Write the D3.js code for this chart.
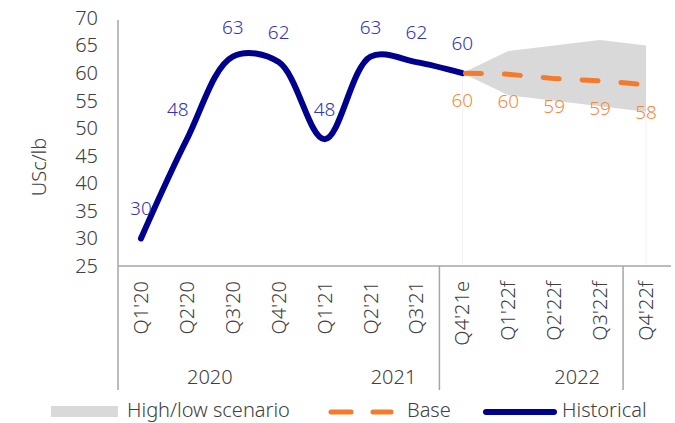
<!DOCTYPE html>
<html>
<head>
<meta charset="utf-8">
<script src="https://cdn.jsdelivr.net/npm/d3@7"></script>
<style>
  body { margin: 0; background: #fff; }
  text { font-family: "Noto Sans", "Open Sans", sans-serif; font-weight: 300; }
</style>
</head>
<body>
<div class="chart"></div>
<script>
// chart data
var quarters = ["Q1'20", "Q2'20", "Q3'20", "Q4'20", "Q1'21", "Q2'21", "Q3'21",
  "Q4'21e", "Q1'22f", "Q2'22f", "Q3'22f", "Q4'22f"];
var years = ["2020", "2021", "2022"];
var yearSpans = [["Q1'20", "Q4'20"], ["Q1'21", "Q4'21e"], ["Q1'22f", "Q4'22f"]];
var separators = ["Q4'21e", "Q4'22f"]; // year separators drawn left of these

var histQuarters = ["Q1'20", "Q2'20", "Q3'20", "Q4'20", "Q1'21", "Q2'21", "Q3'21", "Q4'21e"];
var histValues = [30, 48, 63, 62, 48, 63, 62, 60];

var baseQuarters = ["Q4'21e", "Q1'22f", "Q2'22f", "Q3'22f", "Q4'22f"];
var baseValues = [60, 59.8, 59.0, 58.6, 57.9];
var baseLabels = [60, 60, 59, 59, 58];
var highValues = [60, 64, 65, 66, 65];
var lowValues = [60, 56, 55, 54, 53];

var yTicks = [25, 30, 35, 40, 45, 50, 55, 60, 65, 70];

var svgWidth = 675;
var svgHeight = 423;

var margin = { top: 18, right: 5, bottom: 157, left: 118 };
var width = 669 - margin.left;
var height = 266 - margin.top;

var svg = d3.select(".chart")
  .append("svg")
  .attr("width", svgWidth)
  .attr("height", svgHeight);

var chartGroup = svg.append("g")
  .attr("transform", `translate(${margin.left}, ${margin.top})`);

var xScale = d3.scaleBand()
  .domain(quarters)
  .range([0, width]);

var yScale = d3.scaleLinear()
  .domain([25, 70])
  .range([height, 0]);

var cx = q => xScale(q) + xScale.bandwidth() / 2;

// high/low band
var bandData = baseQuarters.map((q, i) => ({ q: q, hi: highValues[i], lo: lowValues[i] }));
chartGroup.append("path")
  .datum(bandData)
  .attr("fill", "#d9d9d9")
  .attr("d", d3.area()
    .x(d => cx(d.q))
    .y0(d => yScale(d.lo))
    .y1(d => yScale(d.hi)));

// faint edges under the band
[bandData[0], bandData[bandData.length - 1]].forEach(function(d) {
  chartGroup.append("line")
    .attr("x1", cx(d.q)).attr("x2", cx(d.q))
    .attr("y1", yScale(d.lo)).attr("y2", height)
    .attr("stroke", "#f2f2f2")
    .attr("stroke-width", 1);
});

// y axis
var leftAxis = d3.axisLeft(yScale).tickValues(yTicks).tickSize(0).tickPadding(20);
var yAxisG = chartGroup.append("g").call(leftAxis);
yAxisG.select(".domain").remove();
yAxisG.selectAll("text")
  .attr("fill", "#404040")
  .style("font-size", "20px");

chartGroup.append("line")
  .attr("x1", 0).attr("x2", 0)
  .attr("y1", 2).attr("y2", 372)
  .attr("stroke", "#a6a6a6")
  .attr("stroke-width", 1.5);

// x axis
chartGroup.append("line")
  .attr("x1", 0).attr("x2", width + 2)
  .attr("y1", height).attr("y2", height)
  .attr("stroke", "#a6a6a6")
  .attr("stroke-width", 1.5);

var bottomAxis = d3.axisBottom(xScale).tickSize(0).tickPadding(0);
var xAxisG = chartGroup.append("g")
  .attr("transform", `translate(0, ${height})`)
  .call(bottomAxis);
xAxisG.select(".domain").remove();
xAxisG.selectAll("text")
  .attr("fill", "#404040")
  .style("font-size", "20px")
  .attr("text-anchor", "end")
  .attr("transform", "rotate(-90)")
  .attr("x", -15)
  .attr("y", 0)
  .attr("dy", "0.35em");

separators.forEach(function(q) {
  chartGroup.append("line")
    .attr("x1", xScale(q)).attr("x2", xScale(q))
    .attr("y1", height).attr("y2", 372)
    .attr("stroke", "#a6a6a6")
    .attr("stroke-width", 1.5);
});

years.forEach(function(y, i) {
  var span = yearSpans[i];
  chartGroup.append("text")
    .attr("x", (cx(span[0]) + cx(span[1])) / 2)
    .attr("y", 366)
    .attr("text-anchor", "middle")
    .attr("fill", "#404040")
    .style("font-size", "20px")
    .text(y);
});

// y axis title
svg.append("text")
  .attr("transform", "translate(46, 167) rotate(-90)")
  .attr("text-anchor", "middle")
  .attr("fill", "#404040")
  .style("font-size", "20px")
  .text("USc/lb");

// historical line
var histData = histQuarters.map((q, i) => ({ q: q, v: histValues[i] }));
chartGroup.append("path")
  .datum(histData)
  .attr("fill", "none")
  .attr("stroke", "#00008f")
  .attr("stroke-width", 6)
  .attr("stroke-linecap", "round")
  .attr("d", d3.line()
    .x(d => cx(d.q))
    .y(d => yScale(d.v))
    .curve(d3.curveCatmullRom.alpha(0.5)));

// base line
var baseData = baseQuarters.map((q, i) => ({ q: q, v: baseValues[i], lab: baseLabels[i] }));
chartGroup.append("path")
  .datum(baseData)
  .attr("fill", "none")
  .attr("stroke", "#f47a2c")
  .attr("stroke-width", 5)
  .attr("stroke-linecap", "round")
  .attr("stroke-dasharray", "16 23")
  .attr("stroke-dashoffset", -3)
  .attr("d", d3.line()
    .x(d => cx(d.q))
    .y(d => yScale(d.v)));

// data labels (the Q2'20 label sits left of the line)
chartGroup.selectAll("text.hist")
  .data(histData)
  .enter()
  .append("text")
  .attr("class", "hist")
  .attr("x", (d, i) => cx(d.q) - (i === 1 ? 9 : 0))
  .attr("y", d => yScale(d.v) - 23)
  .attr("text-anchor", "middle")
  .attr("fill", "#3434b4")
  .style("font-size", "19px")
  .text(d => d.v);

chartGroup.selectAll("text.base")
  .data(baseData)
  .enter()
  .append("text")
  .attr("class", "base")
  .attr("x", d => cx(d.q))
  .attr("y", d => yScale(d.v) + 34)
  .attr("text-anchor", "middle")
  .attr("fill", "#f58a3d")
  .style("font-size", "19px")
  .text(d => d.lab);

// legend
var legend = svg.append("g").attr("transform", "translate(0, 410)");
legend.append("rect")
  .attr("x", 51).attr("y", -4)
  .attr("width", 67).attr("height", 11)
  .attr("fill", "#d9d9d9");
legend.append("text")
  .attr("x", 127).attr("y", 0).attr("dy", "0.35em")
  .attr("fill", "#404040").style("font-size", "20px")
  .text("High/low scenario");
legend.append("line")
  .attr("x1", 331).attr("x2", 391)
  .attr("y1", 2).attr("y2", 2)
  .attr("stroke", "#f47a2c").attr("stroke-width", 5)
  .attr("stroke-linecap", "round")
  .attr("stroke-dasharray", "20 22");
legend.append("text")
  .attr("x", 407).attr("y", 0).attr("dy", "0.35em")
  .attr("fill", "#404040").style("font-size", "20px")
  .text("Base");
legend.append("line")
  .attr("x1", 486).attr("x2", 554)
  .attr("y1", 2).attr("y2", 2)
  .attr("stroke", "#00008f").attr("stroke-width", 6)
  .attr("stroke-linecap", "round");
legend.append("text")
  .attr("x", 562).attr("y", 0).attr("dy", "0.35em")
  .attr("fill", "#404040").style("font-size", "20px")
  .text("Historical");
</script>
</body>
</html>
